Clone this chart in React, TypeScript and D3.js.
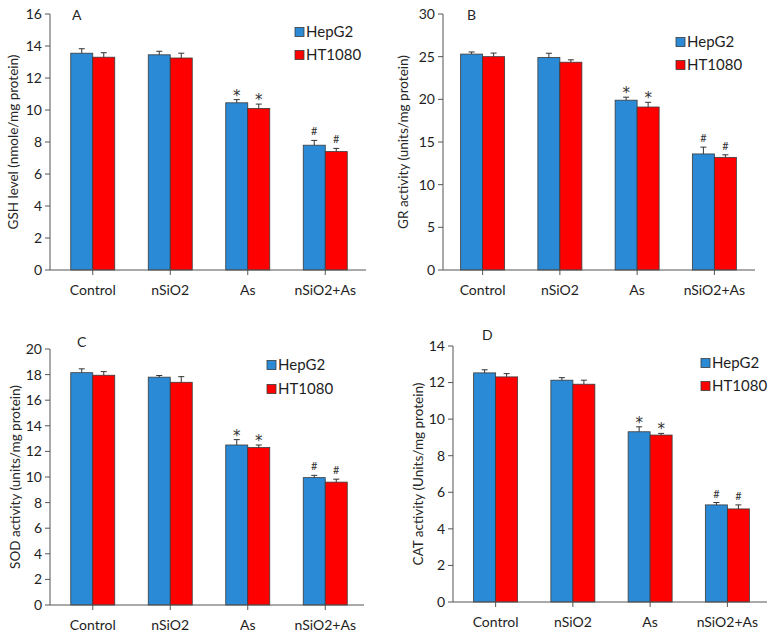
import { useEffect, useRef } from "react";
import * as d3 from "d3";

const categories = ["Control", "nSiO2", "As", "nSiO2+As"];
const series = ["HepG2", "HT1080"];
const markers = ["", "", "*", "#"];

const gshHepG2 = [13.55, 13.45, 10.45, 7.8];
const gshHepG2Err = [0.28, 0.22, 0.2, 0.3];
const gshHT1080 = [13.3, 13.25, 10.1, 7.4];
const gshHT1080Err = [0.28, 0.3, 0.27, 0.2];

const grHepG2 = [25.3, 24.9, 19.9, 13.6];
const grHepG2Err = [0.25, 0.5, 0.35, 0.8];
const grHT1080 = [25.0, 24.35, 19.1, 13.2];
const grHT1080Err = [0.42, 0.28, 0.55, 0.3];

const sodHepG2 = [18.15, 17.8, 12.5, 9.95];
const sodHepG2Err = [0.3, 0.13, 0.42, 0.18];
const sodHT1080 = [17.95, 17.4, 12.3, 9.6];
const sodHT1080Err = [0.28, 0.44, 0.2, 0.23];

const catHepG2 = [12.53, 12.13, 9.31, 5.31];
const catHepG2Err = [0.17, 0.14, 0.27, 0.13];
const catHT1080 = [12.31, 11.91, 9.13, 5.09];
const catHT1080Err = [0.18, 0.22, 0.09, 0.22];

const colors = ["#2b8ad6", "#ff0000"];
const FONT = "Lato, 'Open Sans', sans-serif";

interface PanelProps {
  letter: string;
  yLabel: string;
  values: number[][];
  errors: number[][];
  yMax: number;
  yStep: number;
  axisX: number;
  axisEnd: number;
  top: number;
  bottom: number;
  bandRange: [number, number];
  letterPos: [number, number];
  legendX: number;
  legendY: [number, number];
  yLabelX: number;
}

function Panel(p: PanelProps) {
  const ref = useRef<SVGGElement | null>(null);

  useEffect(() => {
    if (!ref.current) return;
    const g = d3.select(ref.current);
    g.selectAll("*").remove();

    const x = d3.scaleBand().domain(categories).range(p.bandRange).padding(0);
    const xs = d3.scaleBand().domain(series).range([-22, 22]);
    const y = d3.scaleLinear().domain([0, p.yMax]).range([p.bottom, p.top]);

    const rows = categories.flatMap((c, i) =>
      series.map((s, j) => ({ c, s, j, v: p.values[j][i], e: p.errors[j][i], m: markers[i] }))
    );

    // bars
    g.selectAll("rect.bar")
      .data(rows)
      .enter()
      .append("rect")
      .attr("x", d => x(d.c)! + x.bandwidth() / 2 + xs(d.s)!)
      .attr("y", d => y(d.v))
      .attr("width", xs.bandwidth())
      .attr("height", d => y(0) - y(d.v))
      .attr("fill", d => colors[d.j])
      .attr("stroke", "#3a3a3a")
      .attr("stroke-width", 0.8);

    // error bars (upper only)
    const cx = (d: any) => x(d.c)! + x.bandwidth() / 2 + xs(d.s)! + xs.bandwidth() / 2;
    g.selectAll("line.err")
      .data(rows)
      .enter()
      .append("line")
      .attr("x1", cx)
      .attr("x2", cx)
      .attr("y1", d => y(d.v))
      .attr("y2", d => y(d.v + d.e))
      .attr("stroke", "#333")
      .attr("stroke-width", 1);
    g.selectAll("line.cap")
      .data(rows)
      .enter()
      .append("line")
      .attr("x1", d => cx(d) - 3)
      .attr("x2", d => cx(d) + 3)
      .attr("y1", d => y(d.v + d.e))
      .attr("y2", d => y(d.v + d.e))
      .attr("stroke", "#333")
      .attr("stroke-width", 1);

    // significance marks
    g.selectAll("text.mark")
      .data(rows.filter(d => d.m))
      .enter()
      .append("text")
      .attr("x", cx)
      .attr("y", d => y(d.v + d.e) + (d.m === "*" ? 1 : -5))
      .attr("text-anchor", "middle")
      .attr("font-family", d => (d.m === "*" ? "'DejaVu Sans', sans-serif" : FONT))
      .attr("font-size", d => (d.m === "*" ? 15 : 11))
      .attr("fill", "#333")
      .text(d => d.m);

    // y axis
    const ticks = d3.range(0, p.yMax + 0.001, p.yStep);
    g.append("line")
      .attr("x1", p.axisX).attr("x2", p.axisX)
      .attr("y1", p.top).attr("y2", p.bottom)
      .attr("stroke", "#555");
    g.selectAll("line.ytick")
      .data(ticks)
      .enter()
      .append("line")
      .attr("x1", p.axisX - 5).attr("x2", p.axisX)
      .attr("y1", d => y(d)).attr("y2", d => y(d))
      .attr("stroke", "#555");
    g.selectAll("text.ytick")
      .data(ticks)
      .enter()
      .append("text")
      .attr("x", p.axisX - 8)
      .attr("y", d => y(d))
      .attr("dy", "0.35em")
      .attr("text-anchor", "end")
      .attr("font-family", FONT)
      .attr("font-size", 14)
      .attr("fill", "#1e1e1e")
      .text(d => d);

    // x axis
    g.append("line")
      .attr("x1", p.axisX).attr("x2", p.axisEnd)
      .attr("y1", p.bottom).attr("y2", p.bottom)
      .attr("stroke", "#555");
    g.selectAll("line.xtick")
      .data(categories)
      .enter()
      .append("line")
      .attr("x1", d => x(d)! + x.bandwidth() / 2)
      .attr("x2", d => x(d)! + x.bandwidth() / 2)
      .attr("y1", p.bottom).attr("y2", p.bottom + 5)
      .attr("stroke", "#555");
    g.selectAll("text.xtick")
      .data(categories)
      .enter()
      .append("text")
      .attr("x", d => x(d)! + x.bandwidth() / 2)
      .attr("y", p.bottom + 20)
      .attr("dy", "0.35em")
      .attr("text-anchor", "middle")
      .attr("font-family", FONT)
      .attr("font-size", 14)
      .attr("fill", "#1e1e1e")
      .text(d => d);

    // y label
    g.append("text")
      .attr("transform", `translate(${p.yLabelX},${(p.top + p.bottom) / 2}) rotate(-90)`)
      .attr("dy", "0.35em")
      .attr("text-anchor", "middle")
      .attr("font-family", FONT)
      .attr("font-size", 13.5)
      .attr("fill", "#262626")
      .text(p.yLabel);

    // panel letter
    g.append("text")
      .attr("x", p.letterPos[0])
      .attr("y", p.letterPos[1])
      .attr("dy", "0.35em")
      .attr("font-family", FONT)
      .attr("font-size", 14)
      .attr("fill", "#262626")
      .text(p.letter);

    // legend
    series.forEach((s, j) => {
      g.append("rect")
        .attr("x", p.legendX)
        .attr("y", p.legendY[j] - 4.5)
        .attr("width", 9)
        .attr("height", 9)
        .attr("fill", colors[j])
        .attr("stroke", "#3a3a3a")
        .attr("stroke-width", 0.8);
      g.append("text")
        .attr("x", p.legendX + 11)
        .attr("y", p.legendY[j])
        .attr("dy", "0.35em")
        .attr("font-family", FONT)
        .attr("font-size", 15)
        .attr("fill", "#1e1e1e")
        .text(s);
    });
  }, [p]);

  return <g ref={ref} />;
}

export default function App() {
  return (
    <svg
      width={772}
      height={636}
      style={{ position: "absolute", left: 0, top: 0, background: "white" }}
    >
      <Panel
        letter="A"
        yLabel="GSH level (nmole/mg protein)"
        values={[gshHepG2, gshHT1080]}
        errors={[gshHepG2Err, gshHT1080Err]}
        yMax={16}
        yStep={2}
        axisX={50}
        axisEnd={366}
        top={14}
        bottom={270}
        bandRange={[54, 364]}
        letterPos={[72, 15]}
        legendX={295}
        legendY={[32, 55]}
        yLabelX={13}
      />
      <Panel
        letter="B"
        yLabel="GR activity (units/mg protein)"
        values={[grHepG2, grHT1080]}
        errors={[grHepG2Err, grHT1080Err]}
        yMax={30}
        yStep={5}
        axisX={443}
        axisEnd={755}
        top={14}
        bottom={270}
        bandRange={[444, 753]}
        letterPos={[467, 15]}
        legendX={676}
        legendY={[42, 65]}
        yLabelX={403}
      />
      <Panel
        letter="C"
        yLabel="SOD activity (units/mg protein)"
        values={[sodHepG2, sodHT1080]}
        errors={[sodHepG2Err, sodHT1080Err]}
        yMax={20}
        yStep={2}
        axisX={50}
        axisEnd={364}
        top={349}
        bottom={605}
        bandRange={[54, 364]}
        letterPos={[77, 342]}
        legendX={267}
        legendY={[365, 389]}
        yLabelX={15}
      />
      <Panel
        letter="D"
        yLabel="CAT activity (Units/mg protein)"
        values={[catHepG2, catHT1080]}
        errors={[catHepG2Err, catHT1080Err]}
        yMax={14}
        yStep={2}
        axisX={453}
        axisEnd={767}
        top={346}
        bottom={602}
        bandRange={[457, 766]}
        letterPos={[482, 335]}
        legendX={701}
        legendY={[363, 386]}
        yLabelX={418}
      />
    </svg>
  );
}
